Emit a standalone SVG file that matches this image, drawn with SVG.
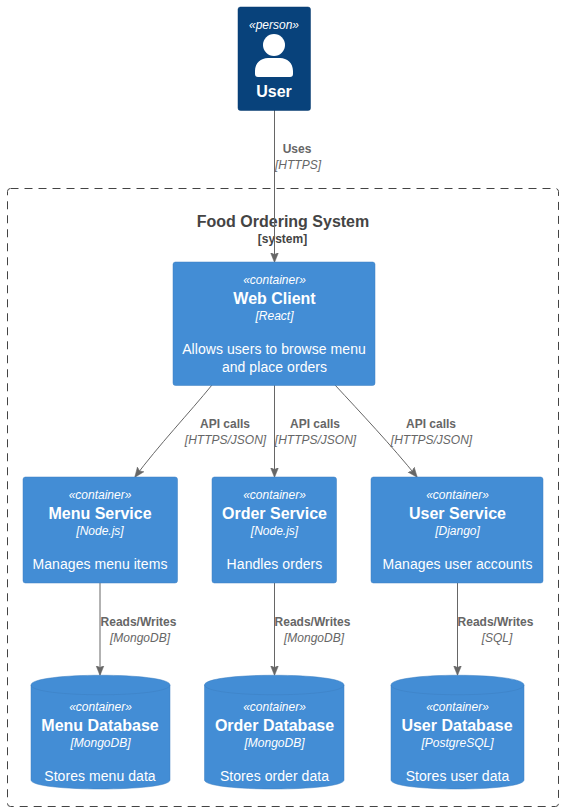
<svg xmlns="http://www.w3.org/2000/svg" width="564" height="811" viewBox="0 0 564 811">
<style>
text{font-family:"Liberation Sans",Arial,sans-serif;text-anchor:middle}
.n{fill:#438DD5;stroke:#3C7FC0;stroke-width:.5}
.s{font-size:12px;font-style:italic;fill:#fff}
.t{font-size:16px;font-weight:bold;fill:#fff}
.d{font-size:14px;fill:#fff;letter-spacing:.06px}
.c{fill:none;stroke:#666;stroke-width:1}
.l{font-size:12px;font-weight:bold;fill:#666}
.i{font-size:12px;font-style:italic;fill:#666}
.e{fill:none;stroke:#3C7FC0;stroke-width:.5}
</style>
<defs><marker id="a" viewBox="0 0 10 12" refX="9.500" refY="6" markerWidth="10" markerHeight="12" markerUnits="userSpaceOnUse" orient="auto"><path d="M0 2 L10 6 L0 10 L2 6Z" fill="#666" stroke="#666" stroke-width=".5"/></marker></defs>
<rect width="564" height="811" fill="#fff"/>
<g id="system">
<rect x="7.500" y="188.500" width="551" height="618" rx="3" fill="none" stroke="#444" stroke-width="1" stroke-dasharray="8 6"/>
<text x="283" y="227" font-size="16" font-weight="bold" fill="#444">Food Ordering System</text>
<text x="282.500" y="243" font-size="12" font-weight="bold" fill="#444">[system]</text>
</g>
<g id="connectors">
<path class="c" marker-end="url(#a)" d="M274.500 110V262"/>
<path class="c" marker-end="url(#a)" d="M212 385C190 412 158 446 135 477"/>
<path class="c" marker-end="url(#a)" d="M274.500 385V477"/>
<path class="c" marker-end="url(#a)" d="M335 385C360 412 392 446 417 477"/>
<path class="c" marker-end="url(#a)" d="M100 583V675"/>
<path class="c" marker-end="url(#a)" d="M274.500 583V675"/>
<path class="c" marker-end="url(#a)" d="M457.500 583V675"/>
<text class="l" x="297" y="153">Uses</text><text class="i" x="298" y="169">[HTTPS]</text>
<text class="l" x="225" y="428">API calls</text><text class="i" x="225.500" y="444">[HTTPS/JSON]</text>
<text class="l" x="315" y="428">API calls</text><text class="i" x="315.500" y="444">[HTTPS/JSON]</text>
<text class="l" x="431" y="428">API calls</text><text class="i" x="431.500" y="444">[HTTPS/JSON]</text>
<text class="l" x="138.500" y="626">Reads/Writes</text><text class="i" x="140" y="642">[MongoDB]</text>
<text class="l" x="312.500" y="626">Reads/Writes</text><text class="i" x="314" y="642">[MongoDB]</text>
<text class="l" x="495.500" y="626">Reads/Writes</text><text class="i" x="497" y="642">[SQL]</text>
</g>
<g id="user">
<rect x="238" y="7" width="72.500" height="103.500" rx="2.500" fill="#08427B" stroke="#073B6F" stroke-width=".5"/>
<text class="s" x="274" y="29">«person»</text>
<circle cx="274" cy="45" r="11" fill="#fff"/>
<path d="M255 77V71C255 63 261 58 268 58H280C287 58 293 63 293 71V74Q293 77 290 77H258Q255 77 255 74Z" fill="#fff"/>
<text x="274" y="97" font-size="16" font-weight="bold" fill="#fff">User</text>
</g>
<g id="web-client">
<rect class="n" x="173" y="262" width="202" height="123.500" rx="2.500"/>
<text class="s" x="274.500" y="284">«container»</text>
<text class="t" x="274.500" y="303.500">Web Client</text>
<text class="s" x="274.500" y="320">[React]</text>
<text class="d" x="274" y="354">Allows users to browse menu</text>
<text class="d" x="274.500" y="372">and place orders</text>
</g>
<g id="menu-service">
<rect class="n" x="23" y="477" width="154.500" height="106" rx="2.500"/>
<text class="s" x="100" y="499">«container»</text>
<text class="t" x="100" y="518.500">Menu Service</text>
<text class="s" x="100" y="535">[Node.js]</text>
<text class="d" x="100" y="569">Manages menu items</text>
</g>
<g id="order-service">
<rect class="n" x="212" y="477" width="124.500" height="106" rx="2.500"/>
<text class="s" x="274.500" y="499">«container»</text>
<text class="t" x="274.500" y="518.500">Order Service</text>
<text class="s" x="274.500" y="535">[Node.js]</text>
<text class="d" x="274.500" y="569">Handles orders</text>
</g>
<g id="user-service">
<rect class="n" x="371" y="477" width="172" height="106" rx="2.500"/>
<text class="s" x="457.500" y="499">«container»</text>
<text class="t" x="457.500" y="518.500">User Service</text>
<text class="s" x="457.500" y="535">[Django]</text>
<text class="d" x="457.500" y="569">Manages user accounts</text>
</g>
<g id="menu-database">
<path class="n" d="M31 685C31 672 170 672 170 685V780C170 792 31 792 31 780Z"/>
<path class="e" d="M31 685C31 698 170 698 170 685"/>
<text class="s" x="100.500" y="711">«container»</text>
<text class="t" x="100" y="730.500">Menu Database</text>
<text class="s" x="100.500" y="747">[MongoDB]</text>
<text class="d" x="100" y="781">Stores menu data</text>
</g>
<g id="order-database">
<path class="n" d="M204.500 685C204.500 672 344 672 344 685V780C344 792 204.500 792 204.500 780Z"/>
<path class="e" d="M204.500 685C204.500 698 344 698 344 685"/>
<text class="s" x="274.500" y="711">«container»</text>
<text class="t" x="274.500" y="730.500">Order Database</text>
<text class="s" x="274.500" y="747">[MongoDB]</text>
<text class="d" x="274.500" y="781">Stores order data</text>
</g>
<g id="user-database">
<path class="n" d="M391 685C391 672 524 672 524 685V780C524 792 391 792 391 780Z"/>
<path class="e" d="M391 685C391 698 524 698 524 685"/>
<text class="s" x="457.500" y="711">«container»</text>
<text class="t" x="457" y="730.500">User Database</text>
<text class="s" x="457.500" y="747">[PostgreSQL]</text>
<text class="d" x="457.500" y="781">Stores user data</text>
</g>
</svg>
